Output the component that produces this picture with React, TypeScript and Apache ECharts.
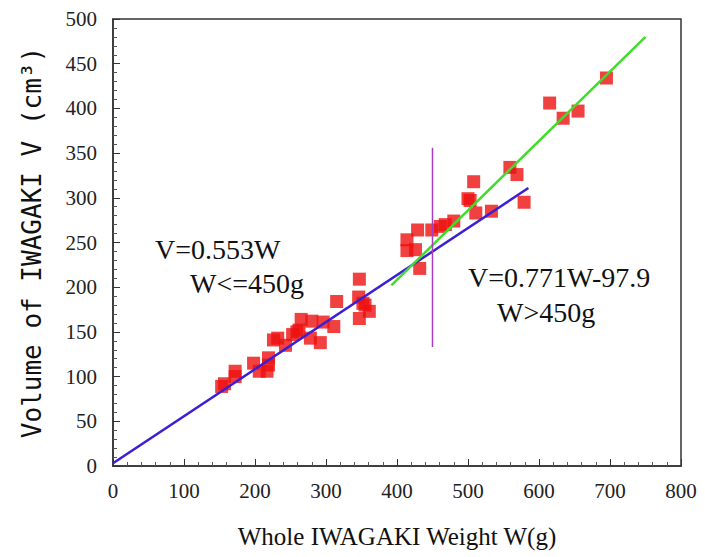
import React, { useEffect, useRef } from "react";
import * as echarts from "echarts";

// Scatter data: whole weight W (g) and volume V (cm³)
const weights: number[] = [
  153, 157, 172, 172, 198, 206, 217, 219, 219, 226, 232, 243, 253, 259, 262, 265,
  278, 280, 292, 296, 311, 315, 347, 346, 355, 361, 347, 352,
  414, 414, 426, 429, 432, 449, 461, 468, 480, 500, 503, 508, 511, 533, 559, 569,
  579, 615, 634, 655, 695,
];
const volumes: number[] = [
  89, 92, 100, 106, 115, 106, 106, 121, 113, 141, 143, 135, 147, 150, 152, 164,
  143, 162, 138, 161, 156, 184, 209, 189, 180, 173, 165, 182,
  253, 241, 242, 264, 221, 264, 268, 270, 274, 299, 297, 318, 283, 285, 334, 326,
  295, 406, 389, 397, 434,
];

// Fitted lines (as drawn)
const lowFitW: number[] = [0, 585];
const lowFitV: number[] = [3, 311];
const highFitW: number[] = [392, 750];
const highFitV: number[] = [202, 480];
const splitW: number[] = [450, 450];
const splitV: number[] = [133, 356];

const xTicks = { min: 0, max: 800, interval: 100 };
const yTicks = { min: 0, max: 500, interval: 50 };

const annotations = [
  { text: "V=0.553W", x: 155, y: 249 },
  { text: "W<=450g", x: 190, y: 283 },
  { text: "V=0.771W-97.9", x: 468, y: 277 },
  { text: "W>450g", x: 497, y: 312 },
];

const zip = (a: number[], b: number[]) => a.map((v, i) => [v, b[i]]);

export default function App() {
  const ref = useRef<HTMLDivElement>(null);
  useEffect(() => {
    if (!ref.current) return;
    const chart = echarts.init(ref.current, null, { renderer: "svg" });
    const serif = "Liberation Serif";
    const mono = "DejaVu Sans Mono";
    chart.setOption({
      animation: false,
      backgroundColor: "#ffffff",
      textStyle: { fontFamily: serif },
      grid: {
        left: 113,
        right: 24,
        top: 19,
        bottom: 91,
        show: true,
        borderColor: "#333",
        borderWidth: 1.5,
      },
      xAxis: {
        type: "value",
        min: xTicks.min,
        max: xTicks.max,
        interval: xTicks.interval,
        name: "Whole IWAGAKI Weight W(g)",
        nameLocation: "middle",
        nameGap: 58,
        nameTextStyle: { fontFamily: serif, fontSize: 25, color: "#111" },
        axisLine: { show: true, lineStyle: { color: "#333", width: 1.5 } },
        axisTick: { show: true, inside: true, length: 7, lineStyle: { color: "#333" } },
        minorTick: { show: true, splitNumber: 5, length: 4, lineStyle: { color: "#555" } },
        splitLine: { show: false },
        axisLabel: { fontFamily: serif, fontSize: 21, color: "#222", margin: 14 },
      },
      yAxis: {
        type: "value",
        min: yTicks.min,
        max: yTicks.max,
        interval: yTicks.interval,
        name: "Volume of IWAGAKI V (cm³)",
        nameLocation: "middle",
        nameGap: 68,
        nameTextStyle: { fontFamily: mono, fontSize: 26, color: "#111" },
        axisLine: { show: true, lineStyle: { color: "#333", width: 1.5 } },
        axisTick: { show: true, inside: true, length: 7, lineStyle: { color: "#333" } },
        minorTick: { show: true, splitNumber: 5, length: 4, lineStyle: { color: "#555" } },
        splitLine: { show: false },
        axisLabel: { fontFamily: serif, fontSize: 21, color: "#222", margin: 16 },
      },
      series: [
        {
          type: "line",
          data: zip(lowFitW, lowFitV),
          showSymbol: false,
          symbol: "none",
          lineStyle: { color: "#3b1fd6", width: 2.5 },
          z: 3,
        },
        {
          type: "line",
          data: zip(highFitW, highFitV),
          showSymbol: false,
          symbol: "none",
          lineStyle: { color: "#3fdc2a", width: 2.5 },
          z: 3,
        },
        {
          type: "line",
          data: zip(splitW, splitV),
          showSymbol: false,
          symbol: "none",
          lineStyle: { color: "#a23fc0", width: 1.5 },
          z: 3,
        },
        {
          type: "scatter",
          data: zip(weights, volumes),
          symbol: "rect",
          symbolSize: 13,
          itemStyle: { color: "#ee1010" },
          z: 2,
        },
      ],
      graphic: annotations.map((a) => ({
        type: "text",
        x: a.x,
        y: a.y,
        style: {
          text: a.text,
          fontFamily: serif,
          fontSize: 28,
          fill: "#111",
          align: "left",
          verticalAlign: "middle",
        },
        z: 10,
      })),
    });
    return () => chart.dispose();
  }, []);
  return (
    <div
      ref={ref}
      style={{ position: "absolute", left: 0, top: 0, width: 705, height: 557 }}
    />
  );
}
